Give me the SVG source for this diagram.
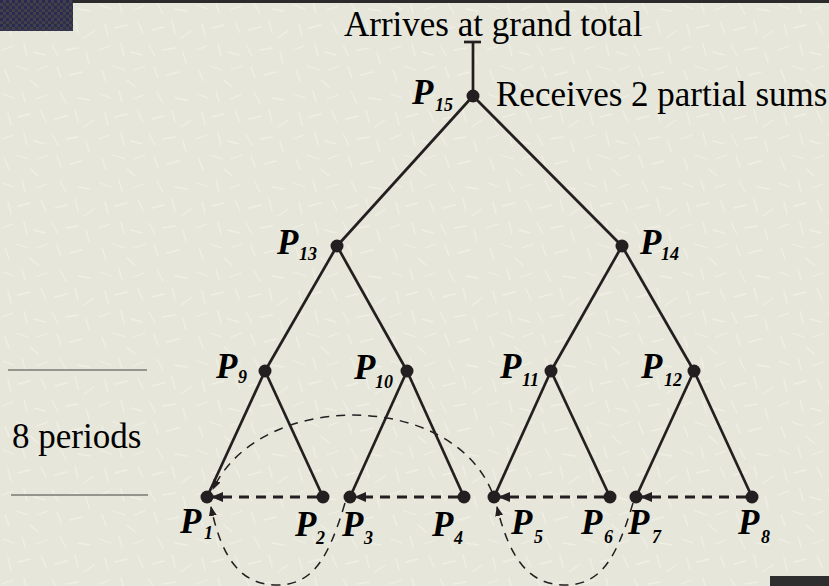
<svg xmlns="http://www.w3.org/2000/svg" width="829" height="586" viewBox="0 0 829 586">
<defs>
<pattern id="tex" width="97" height="89" patternUnits="userSpaceOnUse">
<rect width="97" height="89" fill="#e6e6da"/>
<g stroke="#f1f1e8" stroke-width="1.3" stroke-linecap="round" opacity="0.8">
<line x1="3" y1="5" x2="14" y2="9"/>
<line x1="22" y1="2" x2="25" y2="13"/>
<line x1="36" y1="10" x2="47" y2="6"/>
<line x1="60" y1="3" x2="66" y2="14"/>
<line x1="78" y1="9" x2="90" y2="11"/>
<line x1="8" y1="24" x2="11" y2="36"/>
<line x1="18" y1="28" x2="30" y2="25"/>
<line x1="41" y1="22" x2="46" y2="33"/>
<line x1="55" y1="30" x2="67" y2="27"/>
<line x1="75" y1="21" x2="78" y2="33"/>
<line x1="84" y1="38" x2="94" y2="31"/>
<line x1="2" y1="50" x2="13" y2="46"/>
<line x1="24" y1="44" x2="27" y2="56"/>
<line x1="34" y1="52" x2="45" y2="55"/>
<line x1="52" y1="45" x2="58" y2="56"/>
<line x1="66" y1="50" x2="78" y2="48"/>
<line x1="86" y1="52" x2="89" y2="63"/>
<line x1="5" y1="70" x2="9" y2="81"/>
<line x1="16" y1="66" x2="28" y2="70"/>
<line x1="37" y1="70" x2="48" y2="66"/>
<line x1="57" y1="67" x2="61" y2="78"/>
<line x1="70" y1="75" x2="82" y2="72"/>
<line x1="30" y1="80" x2="38" y2="87"/>
</g>
</pattern>
<pattern id="chk" width="6" height="6" patternUnits="userSpaceOnUse">
<rect width="6" height="6" fill="#404048"/>
<rect width="3" height="3" fill="#2a2a55"/>
<rect x="3" y="3" width="3" height="3" fill="#30304c"/>
</pattern>
<marker id="ah" markerWidth="12" markerHeight="10" refX="11" refY="5" orient="auto" markerUnits="userSpaceOnUse">
<path d="M0,0 L12,5 L0,10 Z" fill="#231f20"/>
</marker>
<marker id="ahs" markerWidth="10" markerHeight="8" refX="9" refY="4" orient="auto" markerUnits="userSpaceOnUse">
<path d="M0,0 L10,4 L0,8 Z" fill="#231f20"/>
</marker>
</defs>
<style>
.edge{stroke:#231f20;stroke-width:2.7;fill:none}
.hd{stroke:#231f20;stroke-width:3;fill:none;stroke-dasharray:10 7}
.arc{stroke:#231f20;stroke-width:1.5;fill:none;stroke-dasharray:9 7}
.dot{fill:#231f20}
.p{font-family:"Liberation Serif","Times New Roman",serif;font-weight:bold;font-style:italic;font-size:35px;fill:#000}
.s{font-size:18px}
.t{font-family:"Liberation Serif","Times New Roman",serif;font-size:35px;fill:#000}
.per{stroke:#7a7a74;stroke-width:1.6}
</style>
<rect width="829" height="586" fill="url(#tex)"/>
<rect x="0" y="0" width="829" height="3" fill="#2b2b2b"/>
<rect x="0" y="0" width="73" height="31" fill="url(#chk)"/>
<rect x="770" y="576" width="59" height="10" fill="#2e2e2e"/>

<text class="t" x="344" y="36">Arrives at grand total</text>
<text class="t" x="496" y="106">Receives 2 partial sums</text>
<g id="periods">
<line class="per" x1="8" y1="370" x2="147" y2="370"/>
<line class="per" x1="11" y1="495" x2="148" y2="495"/>
<text class="t" x="12" y="448">8 periods</text>
</g>

<g id="connectors">
<line class="edge" x1="473" y1="96" x2="473" y2="42"/>
<line class="edge" x1="464" y1="42" x2="481" y2="42"/>
<line class="edge" x1="473" y1="96" x2="337" y2="246"/>
<line class="edge" x1="473" y1="96" x2="622" y2="246"/>
<line class="edge" x1="337" y1="246" x2="265" y2="371"/>
<line class="edge" x1="337" y1="246" x2="407" y2="371"/>
<line class="edge" x1="622" y1="246" x2="551" y2="371"/>
<line class="edge" x1="622" y1="246" x2="694" y2="371"/>
<line class="edge" x1="265" y1="371" x2="207" y2="497"/>
<line class="edge" x1="265" y1="371" x2="323" y2="497"/>
<line class="edge" x1="407" y1="371" x2="350" y2="497"/>
<line class="edge" x1="407" y1="371" x2="464" y2="497"/>
<line class="edge" x1="551" y1="371" x2="494" y2="497"/>
<line class="edge" x1="551" y1="371" x2="610" y2="497"/>
<line class="edge" x1="694" y1="371" x2="636" y2="497"/>
<line class="edge" x1="694" y1="371" x2="752" y2="497"/>
<line class="hd" x1="317" y1="497" x2="212" y2="497" marker-end="url(#ah)"/>
<line class="hd" x1="458" y1="497" x2="355" y2="497" marker-end="url(#ah)"/>
<line class="hd" x1="604" y1="497" x2="499" y2="497" marker-end="url(#ah)"/>
<line class="hd" x1="746" y1="497" x2="641" y2="497" marker-end="url(#ah)"/>
<path class="arc" d="M492,492 C450,390 260,390 213,489" marker-end="url(#ahs)"/>
<path class="arc" d="M345,503 C328,560 312,585 277,585 C242,585 222,560 211,507" marker-end="url(#ahs)"/>
<path class="arc" d="M633,503 C616,560 600,585 565,585 C530,585 510,560 497,507" marker-end="url(#ahs)"/>
</g>

<g id="P15"><circle class="dot" cx="473" cy="96" r="6.5"/><text class="p" x="412" y="104">P<tspan class="s" x="435" y="111">15</tspan></text></g>
<g id="P13"><circle class="dot" cx="337" cy="246" r="6.5"/><text class="p" x="277" y="254">P<tspan class="s" x="299" y="260">13</tspan></text></g>
<g id="P14"><circle class="dot" cx="622" cy="246" r="6.5"/><text class="p" x="640" y="254">P<tspan class="s" x="661" y="260">14</tspan></text></g>
<g id="P9"><circle class="dot" cx="265" cy="371" r="6.5"/><text class="p" x="216" y="378">P<tspan class="s" x="238" y="383">9</tspan></text></g>
<g id="P10"><circle class="dot" cx="407" cy="371" r="6.5"/><text class="p" x="354" y="379">P<tspan class="s" x="375" y="388">10</tspan></text></g>
<g id="P11"><circle class="dot" cx="551" cy="371" r="6.5"/><text class="p" x="500" y="378">P<tspan class="s" x="522" y="386">11</tspan></text></g>
<g id="P12"><circle class="dot" cx="694" cy="371" r="6.5"/><text class="p" x="641" y="378">P<tspan class="s" x="664" y="386">12</tspan></text></g>
<g id="P1"><circle class="dot" cx="207" cy="497" r="6.5"/><text class="p" x="180" y="533">P<tspan class="s" x="204" y="539">1</tspan></text></g>
<g id="P2"><circle class="dot" cx="323" cy="497" r="6.5"/><text class="p" x="295" y="536">P<tspan class="s" x="316" y="544">2</tspan></text></g>
<g id="P3"><circle class="dot" cx="350" cy="497" r="6.5"/><text class="p" x="342" y="536">P<tspan class="s" x="364" y="544">3</tspan></text></g>
<g id="P4"><circle class="dot" cx="464" cy="497" r="6.5"/><text class="p" x="432" y="536">P<tspan class="s" x="454" y="544">4</tspan></text></g>
<g id="P5"><circle class="dot" cx="494" cy="497" r="6.5"/><text class="p" x="511" y="534">P<tspan class="s" x="534" y="543">5</tspan></text></g>
<g id="P6"><circle class="dot" cx="610" cy="497" r="6.5"/><text class="p" x="581" y="534">P<tspan class="s" x="604" y="543">6</tspan></text></g>
<g id="P7"><circle class="dot" cx="636" cy="497" r="6.5"/><text class="p" x="628" y="534">P<tspan class="s" x="652" y="543">7</tspan></text></g>
<g id="P8"><circle class="dot" cx="752" cy="497" r="6.5"/><text class="p" x="738" y="534">P<tspan class="s" x="761" y="543">8</tspan></text></g>
</svg>
